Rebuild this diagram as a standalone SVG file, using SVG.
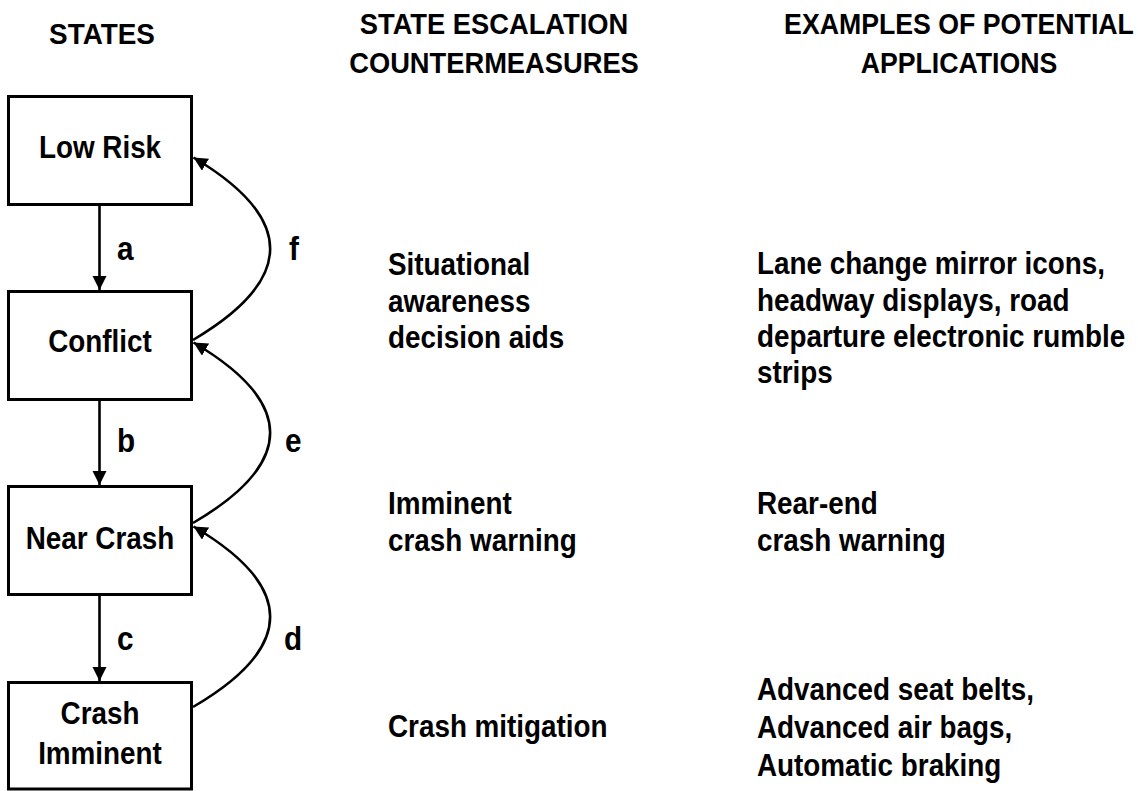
<svg xmlns="http://www.w3.org/2000/svg" width="1138" height="791" viewBox="0 0 1138 791">
  <style>
    text { font-family: "Liberation Sans", Arial, sans-serif; font-weight: bold; fill: #000; }
    .hdr { font-size: 30px; text-anchor: middle; }
    .lbl { font-size: 32px; text-anchor: middle; }
    .body { font-size: 32px; }
    .edge { font-size: 33px; }
    .box { fill: #fff; stroke: #000; stroke-width: 3; }
    .conn { fill: none; stroke: #000; stroke-width: 2.6; marker-end: url(#arrow); }
  </style>
  <defs>
    <marker id="arrow" markerUnits="userSpaceOnUse" markerWidth="15" markerHeight="15" refX="14" refY="7" orient="auto">
      <path d="M0,0 L14,7 L0,14 z" fill="#000"/>
    </marker>
  </defs>
  <rect width="1138" height="791" fill="#fff"/>

  <g id="headers">
    <text class="hdr" transform="translate(102,44) scale(0.93,1)">STATES</text>
    <text class="hdr" transform="translate(494,34) scale(0.91,1)">STATE ESCALATION</text>
    <text class="hdr" transform="translate(494,73) scale(0.91,1)">COUNTERMEASURES</text>
    <text class="hdr" transform="translate(959,34) scale(0.89,1)">EXAMPLES OF POTENTIAL</text>
    <text class="hdr" transform="translate(959,73) scale(0.89,1)">APPLICATIONS</text>
  </g>

  <g id="node-low-risk">
    <rect class="box" x="8.5" y="96.5" width="183" height="108"/>
    <text class="lbl" transform="translate(100,158) scale(0.87,1)">Low Risk</text>
  </g>
  <g id="node-conflict">
    <rect class="box" x="8.5" y="291.5" width="183" height="108"/>
    <text class="lbl" transform="translate(100,352) scale(0.87,1)">Conflict</text>
  </g>
  <g id="node-near-crash">
    <rect class="box" x="8.5" y="486.5" width="183" height="108"/>
    <text class="lbl" transform="translate(100,549) scale(0.87,1)">Near Crash</text>
  </g>
  <g id="node-crash-imminent">
    <rect class="box" x="8.5" y="682.5" width="183" height="106.5"/>
    <text class="lbl" transform="translate(100,724) scale(0.87,1)">Crash</text>
    <text class="lbl" transform="translate(100,764) scale(0.87,1)">Imminent</text>
  </g>

  <g id="connectors">
    <path class="conn" d="M99.5,206 L99.5,290"/>
    <path class="conn" d="M99.5,401 L99.5,485"/>
    <path class="conn" d="M99.5,596 L99.5,681"/>
    <path class="conn" d="M193,340 Q347,249 193.5,157.5"/>
    <path class="conn" d="M193,523 Q347,433 193.5,342.5"/>
    <path class="conn" d="M193,707 Q347,617 193.5,526.5"/>
    <text class="edge" transform="translate(117,260) scale(0.9,1)">a</text>
    <text class="edge" transform="translate(117,452) scale(0.9,1)">b</text>
    <text class="edge" transform="translate(117,650) scale(0.9,1)">c</text>
    <text class="edge" transform="translate(284,650) scale(0.9,1)">d</text>
    <text class="edge" transform="translate(285,452) scale(0.9,1)">e</text>
    <text class="edge" transform="translate(289,260) scale(0.9,1)">f</text>
  </g>

  <g id="countermeasures">
    <text class="body" transform="translate(388,275) scale(0.87,1)">Situational</text>
    <text class="body" transform="translate(388,312) scale(0.87,1)">awareness</text>
    <text class="body" transform="translate(388,348) scale(0.87,1)">decision aids</text>
    <text class="body" transform="translate(388,514) scale(0.87,1)">Imminent</text>
    <text class="body" transform="translate(388,551) scale(0.87,1)">crash warning</text>
    <text class="body" transform="translate(388,737) scale(0.87,1)">Crash mitigation</text>
  </g>

  <g id="applications">
    <text class="body" transform="translate(757,274) scale(0.87,1)">Lane change mirror icons,</text>
    <text class="body" transform="translate(757,311) scale(0.87,1)">headway displays, road</text>
    <text class="body" transform="translate(757,347) scale(0.87,1)">departure electronic rumble</text>
    <text class="body" transform="translate(757,383) scale(0.87,1)">strips</text>
    <text class="body" transform="translate(757,514) scale(0.87,1)">Rear-end</text>
    <text class="body" transform="translate(757,551) scale(0.87,1)">crash warning</text>
    <text class="body" transform="translate(757,700) scale(0.87,1)">Advanced seat belts,</text>
    <text class="body" transform="translate(757,738) scale(0.87,1)">Advanced air bags,</text>
    <text class="body" transform="translate(757,776) scale(0.87,1)">Automatic braking</text>
  </g>
</svg>
